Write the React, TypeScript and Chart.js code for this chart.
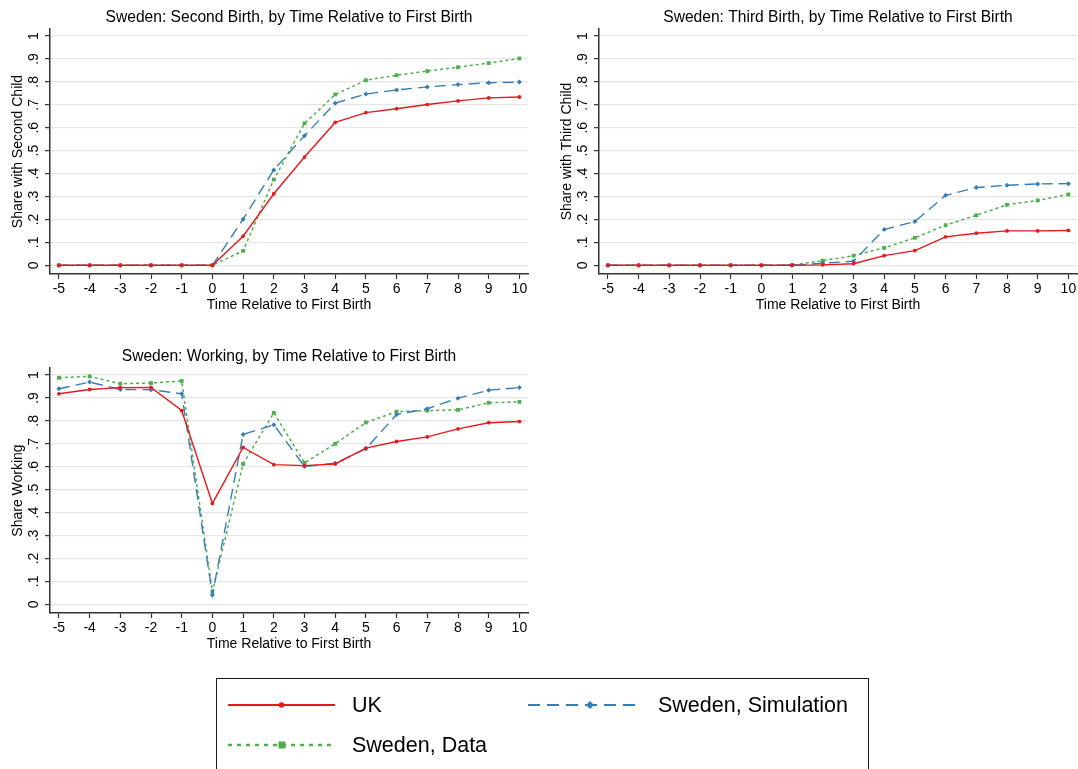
import React, { useEffect, useRef } from "react";
import { Chart, registerables } from "chart.js";

Chart.register(...registerables);

const FONT = "'Liberation Sans', Arial, Helvetica, sans-serif";
Chart.defaults.font.family = FONT;

// ---- data ----
const years = [-5, -4, -3, -2, -1, 0, 1, 2, 3, 4, 5, 6, 7, 8, 9, 10];
const xTickLabels = ["-5", "-4", "-3", "-2", "-1", "0", "1", "2", "3", "4", "5", "6", "7", "8", "9", "10"];
const yTickValues = [0, 0.1, 0.2, 0.3, 0.4, 0.5, 0.6, 0.7, 0.8, 0.9, 1];
const yTickLabels = ["0", ".1", ".2", ".3", ".4", ".5", ".6", ".7", ".8", ".9", "1"];
const seriesNames = ["UK", "Sweden, Simulation", "Sweden, Data"];

const secondUK = [0, 0, 0, 0, 0, 0, 0.127, 0.312, 0.472, 0.623, 0.666, 0.683, 0.701, 0.717, 0.730, 0.734];
const secondSim = [0, 0, 0, 0, 0, 0, 0.201, 0.416, 0.565, 0.707, 0.747, 0.765, 0.778, 0.788, 0.796, 0.799];
const secondData = [0, 0, 0, 0, 0, 0, 0.063, 0.374, 0.619, 0.745, 0.807, 0.829, 0.847, 0.864, 0.882, 0.902];

const thirdUK = [0, 0, 0, 0, 0, 0, 0, 0.002, 0.007, 0.042, 0.064, 0.124, 0.140, 0.150, 0.150, 0.152];
const thirdSim = [0, 0, 0, 0, 0, 0, 0, 0.009, 0.018, 0.156, 0.191, 0.305, 0.339, 0.349, 0.355, 0.356];
const thirdData = [0, 0, 0, 0, 0, 0, 0.001, 0.020, 0.042, 0.076, 0.120, 0.175, 0.218, 0.264, 0.283, 0.309];

const workUK = [0.918, 0.937, 0.945, 0.946, 0.845, 0.440, 0.684, 0.609, 0.605, 0.612, 0.681, 0.710, 0.730, 0.765, 0.792, 0.797];
const workSim = [0.940, 0.969, 0.937, 0.936, 0.918, 0.041, 0.741, 0.783, 0.601, 0.615, 0.678, 0.828, 0.853, 0.899, 0.934, 0.945];
const workData = [0.988, 0.994, 0.962, 0.965, 0.974, 0.055, 0.612, 0.835, 0.617, 0.700, 0.793, 0.840, 0.845, 0.848, 0.879, 0.883];

// ---- styles ----
const RED = "#e41a1c";
const BLUE = "#377eb8";
const GREEN = "#4daf4a";
const AXIS = "#333333";
const GRID = "#e6e6e6";

type PanelProps = {
  title: string;
  yTitle: string;
  uk: number[];
  sim: number[];
  data: number[];
  left: number;
  top: number;
};

function Panel({ title, yTitle, uk, sim, data, left, top }: PanelProps) {
  const ref = useRef<HTMLCanvasElement>(null);
  useEffect(() => {
    const toPts = (vals: number[]) => years.map((x, i) => ({ x, y: vals[i] }));
    const chart = new Chart(ref.current as HTMLCanvasElement, {
      type: "line",
      data: {
        datasets: [
          {
            label: seriesNames[0],
            data: toPts(uk),
            borderColor: RED,
            backgroundColor: RED,
            borderWidth: 1.4,
            pointStyle: "circle",
            pointRadius: 1.9,
            pointBorderWidth: 0,
            pointBackgroundColor: RED,
          },
          {
            label: seriesNames[1],
            data: toPts(sim),
            borderColor: BLUE,
            backgroundColor: BLUE,
            borderWidth: 1.4,
            borderDash: [11, 6],
            pointStyle: "rectRot",
            pointRadius: 2.5,
            pointBorderWidth: 0,
            pointBackgroundColor: BLUE,
          },
          {
            label: seriesNames[2],
            data: toPts(data),
            borderColor: GREEN,
            backgroundColor: GREEN,
            borderWidth: 1.5,
            borderDash: [3, 3],
            pointStyle: "rect",
            pointRadius: 2.7,
            pointBorderWidth: 0,
            pointBackgroundColor: GREEN,
          },
        ],
      },
      options: {
        animation: false,
        responsive: false,
        devicePixelRatio: 1,
        layout: { padding: { left: 0, right: 12, top: 0, bottom: 0 } },
        plugins: {
          legend: { display: false },
          tooltip: { enabled: false },
          title: {
            display: true,
            text: title,
            fullSize: false,
            color: "#000",
            font: { family: FONT, size: 15.6, weight: "normal" },
            padding: { top: 8.3, bottom: 2 },
          },
        },
        scales: {
          x: {
            type: "linear",
            min: -5.29,
            max: 10.28,
            afterBuildTicks: (s: any) => {
              s.ticks = years.map((v) => ({ value: v }));
            },
            afterFit: (s: any) => {
              s.height = 48;
            },
            grid: {
              drawOnChartArea: false,
              drawTicks: true,
              tickLength: 5,
              tickColor: AXIS,
              tickWidth: 1.2,
            },
            border: { color: AXIS, width: 1.5 },
            ticks: {
              autoSkip: false,
              maxRotation: 0,
              minRotation: 0,
              padding: 2,
              color: "#000",
              font: { family: FONT, size: 14 },
              callback: (_v: any, i: number) => xTickLabels[i],
            },
            title: {
              display: true,
              text: "Time Relative to First Birth",
              color: "#000",
              font: { family: FONT, size: 14 },
              padding: { top: 0, bottom: 8.6 },
            },
          },
          y: {
            type: "linear",
            min: -0.038,
            max: 1.0305,
            afterBuildTicks: (s: any) => {
              s.ticks = yTickValues.map((v) => ({ value: v }));
            },
            afterFit: (s: any) => {
              s.width = 50;
            },
            grid: {
              color: GRID,
              lineWidth: 1.3,
              drawTicks: true,
              tickLength: 5,
              tickColor: AXIS,
              tickWidth: 1.2,
            },
            border: { color: AXIS, width: 1.5 },
            ticks: {
              autoSkip: false,
              minRotation: 90,
              maxRotation: 90,
              crossAlign: "center",
              padding: 5.5,
              color: "#000",
              font: { family: FONT, size: 14 },
              callback: (_v: any, i: number) => yTickLabels[i],
            },
            title: {
              display: true,
              text: yTitle,
              color: "#000",
              font: { family: FONT, size: 14 },
              padding: { top: 10, bottom: 0 },
            },
          },
        },
      } as any,
    });
    return () => chart.destroy();
  }, []);
  return (
    <canvas
      ref={ref}
      width={540}
      height={322}
      style={{ position: "absolute", left, top, width: 540, height: 322 }}
    />
  );
}

function Legend() {
  const text: React.CSSProperties = {
    position: "absolute",
    fontFamily: FONT,
    fontSize: 21.5,
    color: "#000",
    lineHeight: "24px",
    whiteSpace: "nowrap",
  };
  return (
    <>
      <div
        style={{
          position: "absolute",
          left: 216,
          top: 678,
          width: 653,
          height: 110,
          border: "1.5px solid #1a1a1a",
          boxSizing: "border-box",
          background: "#fff",
        }}
      />
      <svg
        width={1078}
        height={769}
        style={{ position: "absolute", left: 0, top: 0, pointerEvents: "none" }}
      >
        <line x1={228} y1={705} x2={335} y2={705} stroke={RED} strokeWidth={2.2} />
        <circle cx={281.5} cy={705} r={2.8} fill={RED} />
        <line x1={528} y1={705} x2={641} y2={705} stroke={BLUE} strokeWidth={2.2} strokeDasharray="12 7" />
        <polygon points="586,705 590,701 594,705 590,709" fill={BLUE} />
        <line x1={228} y1={745} x2={332} y2={745} stroke={GREEN} strokeWidth={2.4} strokeDasharray="4 5" />
        <rect x={278.5} y={741.5} width={7} height={7} fill={GREEN} />
      </svg>
      <div style={{ ...text, left: 352, top: 693 }}>{seriesNames[0]}</div>
      <div style={{ ...text, left: 658, top: 693 }}>{seriesNames[1]}</div>
      <div style={{ ...text, left: 352, top: 733 }}>{seriesNames[2]}</div>
    </>
  );
}

export default function App() {
  return (
    <div
      style={{
        position: "fixed",
        left: 0,
        top: 0,
        width: 1078,
        height: 769,
        overflow: "hidden",
        background: "#fff",
      }}
    >
      <Panel
        title="Sweden: Second Birth, by Time Relative to First Birth"
        yTitle="Share with Second Child"
        uk={secondUK}
        sim={secondSim}
        data={secondData}
        left={0}
        top={0}
      />
      <Panel
        title="Sweden: Third Birth, by Time Relative to First Birth"
        yTitle="Share with Third Child"
        uk={thirdUK}
        sim={thirdSim}
        data={thirdData}
        left={549}
        top={0}
      />
      <Panel
        title="Sweden: Working, by Time Relative to First Birth"
        yTitle="Share Working"
        uk={workUK}
        sim={workSim}
        data={workData}
        left={0}
        top={338.5}
      />
      <Legend />
    </div>
  );
}
